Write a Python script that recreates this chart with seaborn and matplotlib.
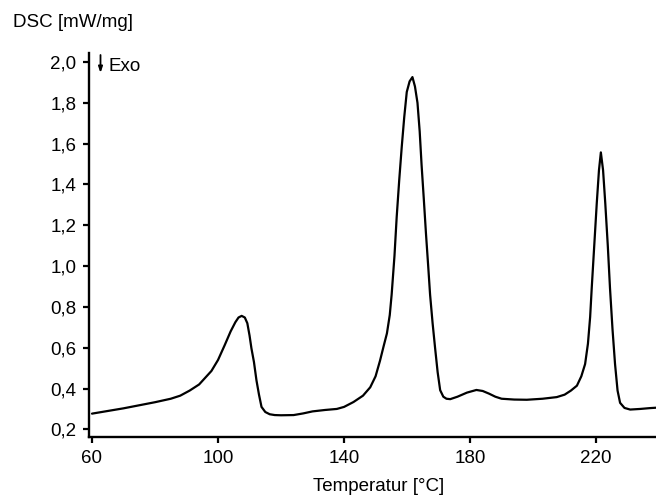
import matplotlib
matplotlib.use("Agg")
import matplotlib.pyplot as plt
import seaborn as sns
import pandas as pd
from matplotlib.ticker import FuncFormatter, FixedLocator

# ---- data ----
temperature = [60, 65, 70, 75, 80, 85, 88, 91, 94, 97.9, 100, 102.1, 104, 105.5, 106.5,
               107.5, 108.5, 109.3, 110, 110.6, 111.4, 112.2, 113.0, 113.8, 115, 116.4,
               118, 120, 124, 127, 130, 134, 137.7, 140, 143, 146, 148.3, 150, 151.4,
               152.6, 153.6, 154.5, 155.1, 156, 156.7, 157.5, 158.3, 159.1, 159.9, 160.8,
               161.7, 162.5, 163.3, 164, 164.6, 165.3, 166, 166.7, 167.3, 168.1, 168.9,
               169.7, 170.5, 171.5, 172.5, 173.7, 176, 179, 182, 184, 186, 188, 190, 194,
               198, 203, 207.5, 210, 212, 213.9, 215.3, 216.5, 217.4, 218.1, 218.6, 219.4,
               220.2, 220.9, 221.5, 222.2, 222.9, 223.7, 224.4, 225.2, 226, 226.8, 227.6,
               229, 230.8, 234, 237, 239]
dsc = [0.277, 0.29, 0.303, 0.318, 0.333, 0.35, 0.365, 0.39, 0.42, 0.486, 0.54, 0.612,
       0.68, 0.725, 0.748, 0.756, 0.748, 0.72, 0.66, 0.597, 0.53, 0.44, 0.37, 0.31,
       0.285, 0.274, 0.27, 0.269, 0.27, 0.278, 0.288, 0.295, 0.30, 0.31, 0.334, 0.365,
       0.406, 0.46, 0.536, 0.61, 0.67, 0.76, 0.86, 1.05, 1.24, 1.42, 1.583, 1.73,
       1.853, 1.905, 1.926, 1.88, 1.80, 1.66, 1.496, 1.33, 1.158, 1.0, 0.86, 0.72,
       0.597, 0.48, 0.392, 0.36, 0.35, 0.348, 0.36, 0.38, 0.393, 0.388, 0.375, 0.36,
       0.35, 0.346, 0.345, 0.35, 0.358, 0.37, 0.39, 0.414, 0.46, 0.52, 0.62, 0.751,
       0.892, 1.1, 1.308, 1.47, 1.557, 1.47, 1.308, 1.1, 0.892, 0.69, 0.52, 0.39,
       0.33, 0.305, 0.297, 0.30, 0.304, 0.306]

x_ticks = [60, 100, 140, 180, 220]
y_ticks = [0.2, 0.4, 0.6, 0.8, 1.0, 1.2, 1.4, 1.6, 1.8, 2.0]

y_title = "DSC [mW/mg]"
x_title = "Temperatur [°C]"
exo_label = "Exo"

df = pd.DataFrame({"T": temperature, "DSC": dsc})

sns.set_style("ticks")
plt.rcParams["font.family"] = ["Liberation Sans", "DejaVu Sans"]
FS = 13.5

fig = plt.figure(figsize=(6.56, 4.97), dpi=100)
ax = fig.add_axes([89 / 656, 1 - 436.7 / 497, 1 - 89 / 656, (436.7 - 53) / 497])

sns.lineplot(data=df, x="T", y="DSC", ax=ax, color="black", linewidth=1.6,
             estimator=None, sort=False, solid_joinstyle="round", solid_capstyle="round")

ax.set_xlim(59.05, 239.0)
ax.set_ylim(0.164, 2.044)
ax.xaxis.set_major_locator(FixedLocator(x_ticks))
ax.yaxis.set_major_locator(FixedLocator(y_ticks))
ax.yaxis.set_major_formatter(FuncFormatter(lambda v, p: f"{v:.1f}".replace(".", ",")))
ax.xaxis.set_major_formatter(FuncFormatter(lambda v, p: f"{v:.0f}"))

for s in ["top", "right"]:
    ax.spines[s].set_visible(False)
for s in ["left", "bottom"]:
    ax.spines[s].set_linewidth(1.7)
    ax.spines[s].set_color("black")

ax.tick_params(axis="both", direction="out", length=4.5, width=1.6, colors="black",
               labelsize=FS, labelcolor="black")
ax.tick_params(axis="y", pad=4.5)
ax.tick_params(axis="x", pad=5)
ax.set_xlabel("")
ax.set_ylabel("")

fig.text(13 / 656, 1 - 27.3 / 497, y_title, fontsize=FS, ha="left", va="baseline",
         color="black")
fig.text(379 / 656, 1 - 491 / 497, x_title, fontsize=FS, ha="center", va="baseline",
         color="black")

# Exo arrow + label
ax.annotate("", xy=(100.5 / 656, 1 - 73 / 497), xytext=(100.5 / 656, 1 - 55 / 497),
            xycoords="figure fraction", textcoords="figure fraction",
            arrowprops=dict(arrowstyle="-|>,head_length=0.35,head_width=0.12",
                            color="black", lw=1.3, shrinkA=0, shrinkB=0))
fig.text(109 / 656, 1 - 71 / 497, exo_label, fontsize=FS, ha="left", va="baseline",
         color="black")

fig.savefig("out.png", dpi=100)
